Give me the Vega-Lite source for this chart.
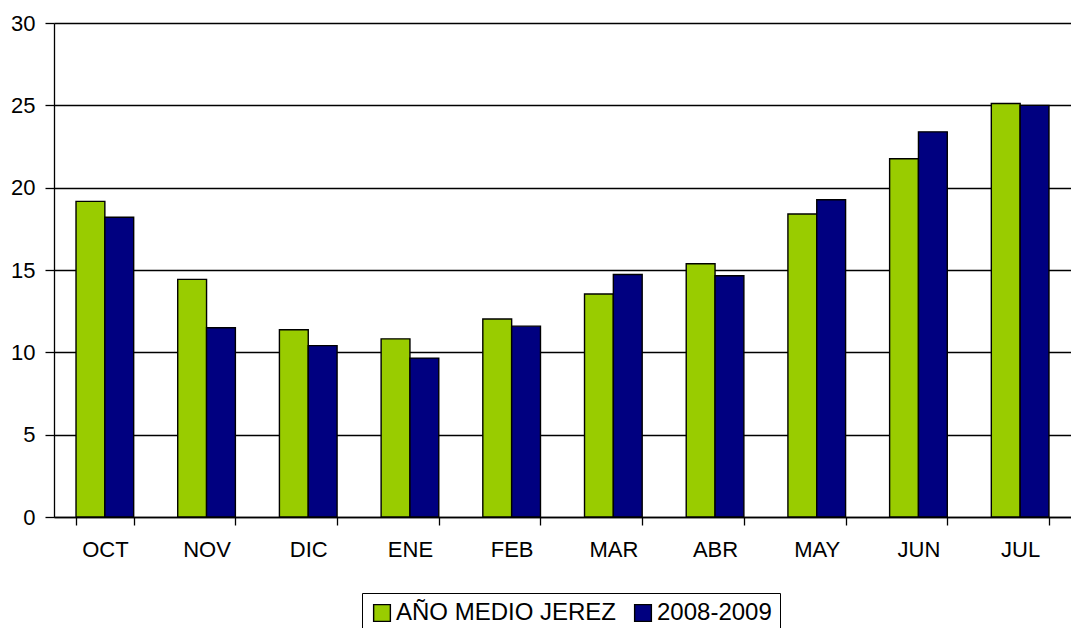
{
  "$schema": "https://vega.github.io/schema/vega-lite/v6.json",
  "width": 1017,
  "height": 494,
  "autosize": {"type": "none"},
  "padding": {"left": 54, "top": 23, "right": 0, "bottom": 111},
  "background": "white",
  "config": {"view": {"stroke": null}, "font": "Liberation Sans"},
  "data": {
    "values": [
      {"month": "OCT", "series": "AÑO MEDIO JEREZ", "value": 19.17},
      {"month": "OCT", "series": "2008-2009", "value": 18.2},
      {"month": "NOV", "series": "AÑO MEDIO JEREZ", "value": 14.43},
      {"month": "NOV", "series": "2008-2009", "value": 11.49},
      {"month": "DIC", "series": "AÑO MEDIO JEREZ", "value": 11.37},
      {"month": "DIC", "series": "2008-2009", "value": 10.41},
      {"month": "ENE", "series": "AÑO MEDIO JEREZ", "value": 10.82},
      {"month": "ENE", "series": "2008-2009", "value": 9.65},
      {"month": "FEB", "series": "AÑO MEDIO JEREZ", "value": 12.02},
      {"month": "FEB", "series": "2008-2009", "value": 11.59},
      {"month": "MAR", "series": "AÑO MEDIO JEREZ", "value": 13.54},
      {"month": "MAR", "series": "2008-2009", "value": 14.73},
      {"month": "ABR", "series": "AÑO MEDIO JEREZ", "value": 15.38},
      {"month": "ABR", "series": "2008-2009", "value": 14.65},
      {"month": "MAY", "series": "AÑO MEDIO JEREZ", "value": 18.4},
      {"month": "MAY", "series": "2008-2009", "value": 19.27},
      {"month": "JUN", "series": "AÑO MEDIO JEREZ", "value": 21.76},
      {"month": "JUN", "series": "2008-2009", "value": 23.39},
      {"month": "JUL", "series": "AÑO MEDIO JEREZ", "value": 25.11},
      {"month": "JUL", "series": "2008-2009", "value": 25.0}
    ]
  },
  "mark": {"type": "bar", "stroke": "black", "strokeWidth": 1.4},
  "encoding": {
    "x": {
      "field": "month",
      "type": "nominal",
      "sort": ["OCT", "NOV", "DIC", "ENE", "FEB", "MAR", "ABR", "MAY", "JUN", "JUL"],
      "scale": {"paddingInner": 0.433, "paddingOuter": 0.2165},
      "axis": {
        "title": null,
        "labelAngle": 0,
        "labelFontSize": 22,
        "labelColor": "black",
        "labelPadding": 14,
        "tickBand": "extent",
        "tickSize": 8,
        "tickColor": "black",
        "tickWidth": 1.3,
        "domainColor": "black",
        "domainWidth": 1.3
      }
    },
    "xOffset": {
      "field": "series",
      "type": "nominal",
      "sort": ["AÑO MEDIO JEREZ", "2008-2009"]
    },
    "y": {
      "field": "value",
      "type": "quantitative",
      "scale": {"domain": [0, 30], "nice": false},
      "axis": {
        "title": null,
        "values": [0, 5, 10, 15, 20, 25, 30],
        "grid": true,
        "gridColor": "black",
        "gridWidth": 1.3,
        "gridOpacity": 1,
        "domainColor": "black",
        "domainWidth": 1.3,
        "tickColor": "black",
        "tickWidth": 1.3,
        "tickSize": 9,
        "labelPadding": 10,
        "labelFontSize": 22,
        "labelColor": "black"
      }
    },
    "color": {
      "field": "series",
      "type": "nominal",
      "sort": ["AÑO MEDIO JEREZ", "2008-2009"],
      "scale": {"domain": ["AÑO MEDIO JEREZ", "2008-2009"], "range": ["#99CC00", "#000080"]},
      "legend": {
        "title": null,
        "orient": "none",
        "legendX": 308,
        "legendY": 570,
        "direction": "horizontal",
        "strokeColor": "black",
        "fillColor": "white",
        "padding": 8,
        "symbolType": "square",
        "symbolSize": 280,
        "symbolStrokeColor": "black",
        "symbolStrokeWidth": 1.4,
        "symbolOpacity": 1,
        "labelFontSize": 24,
        "labelLimit": 400,
        "labelColor": "black",
        "labelOffset": 2,
        "columnPadding": 14
      }
    }
  }
}
